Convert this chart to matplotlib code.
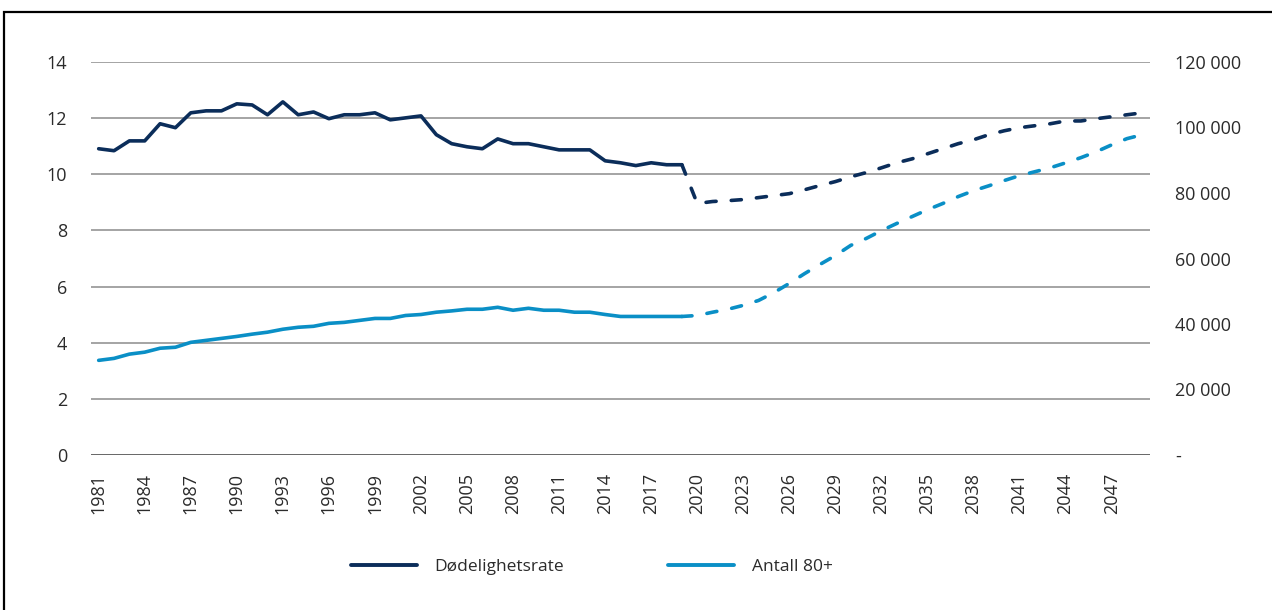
import matplotlib.pyplot as plt
import matplotlib.patches as patches
import numpy as np

plt.rcParams['font.family'] = ['Open Sans', 'DejaVu Sans']

years = list(range(1981, 2050))

# Dødelighetsrate (left axis), 1981-2019 observed
death_obs = [10.91, 10.84, 11.19, 11.19, 11.80, 11.66, 12.19, 12.26, 12.26, 12.51,
             12.47, 12.12, 12.58, 12.12, 12.22, 11.98, 12.12, 12.12, 12.19, 11.94,
             12.01, 12.08, 11.41, 11.09, 10.98, 10.91, 11.26, 11.09, 11.09, 10.98,
             10.87, 10.87, 10.87, 10.48, 10.41, 10.31, 10.41, 10.34, 10.34]
# projection 2020-2049
death_proj = [8.96, 9.03, 9.06, 9.10, 9.17, 9.24, 9.31, 9.45, 9.60, 9.74,
              9.91, 10.06, 10.23, 10.41, 10.55, 10.73, 10.91, 11.09, 11.23, 11.41,
              11.55, 11.66, 11.73, 11.80, 11.90, 11.90, 11.98, 12.05, 12.12, 12.19]

# Antall 80+ (right axis)
old_obs = [28900, 29500, 30800, 31400, 32600, 32900, 34400, 35000, 35600, 36200,
           36900, 37500, 38400, 39000, 39300, 40200, 40500, 41100, 41700, 41700,
           42600, 42900, 43600, 44000, 44500, 44500, 45100, 44200, 44800, 44200,
           44200, 43600, 43600, 42900, 42300, 42300, 42300, 42300, 42300]
old_proj = [42600, 43600, 44500, 45700, 47200, 49600, 52400, 55400, 58200, 60900,
            64000, 66100, 68500, 70700, 72800, 74900, 76800, 78900, 80700, 82200,
            83800, 85300, 86500, 87700, 89200, 90800, 92600, 94700, 96600, 97800]

left_ticks = [0, 2, 4, 6, 8, 10, 12, 14]
right_ticks = [0, 20000, 40000, 60000, 80000, 100000, 120000]
right_labels = ['-', '20 000', '40 000', '60 000', '80 000', '100 000', '120 000']

dark = '#0b2d5a'
light = '#0a8fc6'
txt = '#2b2b2b'

n_obs = len(death_obs)
x_obs = np.arange(n_obs)
x_proj = np.arange(n_obs - 1, len(years))

fig = plt.figure(figsize=(12.72, 6.10), dpi=100)
ax = fig.add_axes([91 / 1272, 1 - 455 / 610, (1150 - 91) / 1272, (455 - 62) / 610])
ax2 = ax.twinx()

lw = 2.6
dash = (0, (2.8, 4.2))
ax.plot(x_obs, death_obs, color=dark, lw=lw, solid_capstyle='round', solid_joinstyle='round', zorder=3)
ax.plot(x_proj, [death_obs[-1]] + death_proj, color=dark, lw=lw, linestyle=dash,
        dash_capstyle='round', zorder=3)
ax2.plot(x_obs, old_obs, color=light, lw=lw, solid_capstyle='round', solid_joinstyle='round', zorder=3)
ax2.plot(x_proj, [old_obs[-1]] + old_proj, color=light, lw=lw, linestyle=dash,
         dash_capstyle='round', zorder=3)

ax.set_xlim(-0.5, len(years) - 0.5)
ax.set_ylim(0, 14)
ax2.set_ylim(0, 120000)

for t in left_ticks[1:]:
    ax.axhline(t, color='#8c8c8c', lw=1.1, zorder=1)
ax.axhline(0, color='#4d4d4d', lw=1.2, zorder=2)

ax.set_yticks(left_ticks)
ax.set_yticklabels([str(t) for t in left_ticks])
ax2.set_yticks(right_ticks)
ax2.set_yticklabels(right_labels)

idx = list(range(0, len(years), 3))
ax.set_xticks(idx)
ax.set_xticklabels([str(years[i]) for i in idx], rotation=90)

ax.tick_params(axis='x', length=0, pad=13, labelsize=13, labelcolor=txt)
ax.tick_params(axis='y', length=0, pad=17, labelsize=13, labelcolor=txt)
ax2.tick_params(axis='y', length=0, pad=18, labelsize=13, labelcolor=txt)

for a in (ax, ax2):
    for s in a.spines.values():
        s.set_visible(False)

h1, = ax.plot([], [], color=dark, lw=2.8, solid_capstyle='round')
h2, = ax.plot([], [], color=light, lw=2.8, solid_capstyle='round')
fig.legend([h1, h2], ['Dødelighetsrate', 'Antall 80+'], loc='center',
           bbox_to_anchor=(592 / 1272, 1 - 567 / 610), ncol=2, frameon=False,
           handlelength=3.8, handletextpad=1.0, columnspacing=6.0,
           prop={'size': 12.5}, labelcolor=txt)

# outer frame
fig.add_artist(patches.Rectangle((4 / 1272, -0.05), 1.1, 1 - 12 / 610 + 0.05,
                                 transform=fig.transFigure, fill=False,
                                 edgecolor='black', lw=1.6))

fig.savefig('out.png', dpi=100)
